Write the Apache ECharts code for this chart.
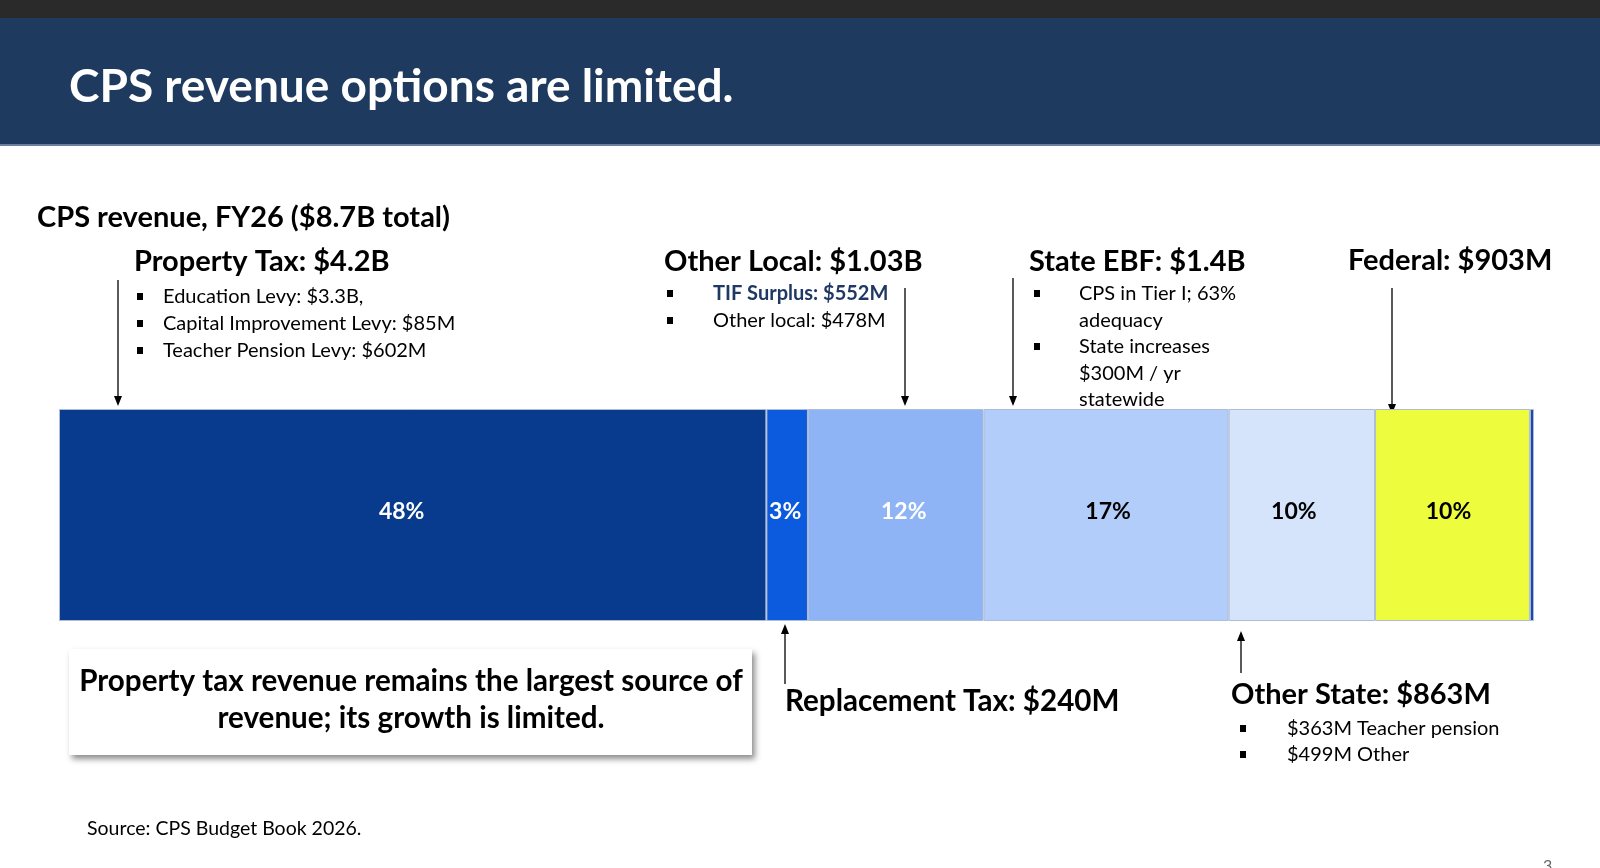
<!DOCTYPE html>
<html>
<head>
<meta charset="utf-8">
<script src="https://cdn.jsdelivr.net/npm/echarts@6/dist/echarts.min.js"></script>
<style>
html,body{margin:0;padding:0;background:#fff;}
#main{width:1600px;height:868px;}
</style>
</head>
<body>
<div id="main"></div>
<script>
// revenue pieces, FY26, in $M (widths)
var categories = ['Property Tax', 'Replacement Tax', 'Other Local', 'State EBF', 'Other State', 'Federal', 'Other'];
var values = [4170, 245, 1035, 1445, 863, 913, 24];
var pctLabels = ['48%', '3%', '12%', '17%', '10%', '10%', ''];
var segColors = ['#083a8d', '#0c5add', '#8fb4f6', '#b2cdf9', '#d5e4fb', '#edfd3e', '#1849b0'];
var labelColors = ['#fff', '#fff', '#fff', '#000', '#000', '#000', '#000'];
// small nudges so the labels sit where the slide has them
var labelShift = [-11, -2, 8, 2, -8, -4, 0];

var total = 0;
for (var k = 0; k < values.length; k++) total += values[k];

var FONT = 'Lato, "Open Sans", sans-serif';

function txt(x, base, str, size, weight, color, align) {
    return {
        type: 'text', x: x, y: base - 0.36 * size, silent: true,
        style: {
            text: str, fill: color || '#000', align: align || 'left', verticalAlign: 'middle',
            font: (weight || 'normal') + ' ' + size + 'px ' + FONT
        }
    };
}
function bullet(x, base) {
    return {type: 'rect', shape: {x: x, y: base - 11, width: 6, height: 7}, style: {fill: '#000'}, silent: true};
}
function arrowDown(x, y1, y2) {
    return [
        {type: 'line', shape: {x1: x, y1: y1, x2: x, y2: y2 - 8}, style: {stroke: '#000', lineWidth: 1.3}, silent: true},
        {type: 'polygon', shape: {points: [[x - 4, y2 - 10], [x + 4, y2 - 10], [x, y2]]}, style: {fill: '#000'}, silent: true}
    ];
}
function arrowUp(x, y1, y2) {
    return [
        {type: 'line', shape: {x1: x, y1: y1, x2: x, y2: y2 + 8}, style: {stroke: '#000', lineWidth: 1.3}, silent: true},
        {type: 'polygon', shape: {points: [[x - 4, y2 + 10], [x + 4, y2 + 10], [x, y2]]}, style: {fill: '#000'}, silent: true}
    ];
}

var g = [
    {type: 'rect', shape: {x: 0, y: 0, width: 1600, height: 18}, style: {fill: '#2a2a2a'}, silent: true},
    {type: 'rect', shape: {x: 0, y: 18, width: 1600, height: 127}, style: {fill: '#1f3a5f'}, silent: true},
    {type: 'rect', shape: {x: 0, y: 144, width: 1600, height: 2}, style: {fill: '#6a7f9e'}, silent: true},
    txt(69, 104, 'CPS revenue options are limited.', 46, 'bold', '#fff'),
    txt(37, 228, 'CPS revenue, FY26 ($8.7B total)', 29, 'bold'),

    txt(134, 272, 'Property Tax: $4.2B', 29, 'bold'),
    bullet(137, 304), txt(163, 304, 'Education Levy: $3.3B,', 20),
    bullet(137, 331), txt(163, 331, 'Capital Improvement Levy: $85M', 20),
    bullet(137, 358), txt(163, 358, 'Teacher Pension Levy: $602M', 20),

    txt(664, 272, 'Other Local: $1.03B', 29, 'bold'),
    bullet(667, 301), txt(713, 301, 'TIF Surplus: $552M', 20, 'bold', '#1f3864'),
    bullet(667, 328), txt(713, 328, 'Other local: $478M', 20),

    txt(1029, 272, 'State EBF: $1.4B', 29, 'bold'),
    bullet(1034, 301), txt(1079, 301, 'CPS in Tier I; 63%', 20),
    txt(1079, 328, 'adequacy', 20),
    bullet(1034, 354), txt(1079, 354, 'State increases', 20),
    txt(1079, 381, '$300M / yr', 20),
    txt(1079, 407, 'statewide', 20),

    txt(1348, 271, 'Federal: $903M', 29, 'bold'),

    txt(785, 712, 'Replacement Tax: $240M', 29.6, 'bold'),
    txt(1231, 705, 'Other State: $863M', 29, 'bold'),
    bullet(1240, 736), txt(1287, 736, '$363M Teacher pension', 20),
    bullet(1240, 762), txt(1287, 762, '$499M Other', 20),

    {type: 'rect', shape: {x: 69, y: 649, width: 683, height: 106},
        style: {fill: '#fff', shadowBlur: 6, shadowOffsetX: 3, shadowOffsetY: 4, shadowColor: 'rgba(0,0,0,0.45)'}, silent: true},
    txt(411, 692, 'Property tax revenue remains the largest source of', 29.6, 'bold', '#000', 'center'),
    txt(411, 729, 'revenue; its growth is limited.', 29.6, 'bold', '#000', 'center'),

    txt(87, 836, 'Source: CPS Budget Book 2026.', 19.5),
    txt(1543, 872, '3', 16, 'normal', '#666')
];
g = g.concat(arrowDown(118, 280, 406), arrowDown(905, 288, 406), arrowDown(1013, 278, 406),
    arrowDown(1392, 288, 414), arrowUp(785, 684, 624), arrowUp(1241, 673, 631));

var series = categories.map(function (name, i) {
    return {
        type: 'bar', name: name, stack: 'rev', data: [values[i]], barWidth: '100%',
        itemStyle: {color: segColors[i], borderColor: '#aebcd6', borderWidth: 1},
        label: {
            show: pctLabels[i] !== '', position: 'inside', formatter: pctLabels[i], offset: [labelShift[i], -3],
            color: labelColors[i], fontSize: 23, fontWeight: 'bold', fontFamily: FONT
        }
    };
});

var chart = echarts.init(document.getElementById('main'));
chart.setOption({
    animation: false,
    grid: {left: 59, right: 66, top: 409, height: 212},
    xAxis: {type: 'value', min: 0, max: total, show: false},
    yAxis: {type: 'category', data: ['FY26'], show: false},
    series: series,
    graphic: g
});
</script>
</body>
</html>
